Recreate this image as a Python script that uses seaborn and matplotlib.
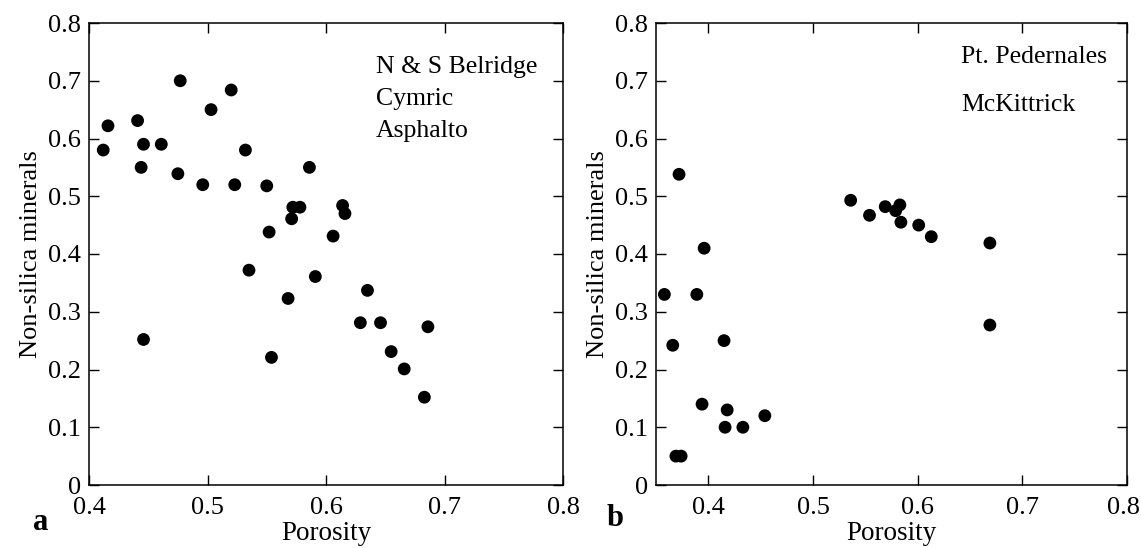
import matplotlib
matplotlib.use("Agg")
import matplotlib.pyplot as plt
import seaborn as sns
import pandas as pd
from matplotlib.ticker import FuncFormatter

# Panel a data
a_porosity = [0.412, 0.416, 0.441, 0.446, 0.444, 0.461, 0.477, 0.475, 0.496, 0.503,
              0.520, 0.523, 0.532, 0.550, 0.552, 0.535, 0.571, 0.572, 0.578, 0.586,
              0.568, 0.591, 0.554, 0.446, 0.606, 0.614, 0.616, 0.635, 0.629, 0.646,
              0.686, 0.655, 0.666, 0.683]
a_nonsilica = [0.580, 0.622, 0.631, 0.590, 0.550, 0.590, 0.700, 0.539, 0.520, 0.650,
               0.684, 0.520, 0.580, 0.518, 0.438, 0.372, 0.461, 0.481, 0.481, 0.550,
               0.323, 0.361, 0.221, 0.252, 0.431, 0.484, 0.470, 0.337, 0.281, 0.281,
               0.274, 0.231, 0.201, 0.152]

# Panel b data
b_porosity = [0.358, 0.366, 0.372, 0.369, 0.374, 0.389, 0.396, 0.394, 0.415, 0.418,
              0.416, 0.433, 0.454, 0.536, 0.554, 0.569, 0.579, 0.583, 0.584, 0.601,
              0.613, 0.669, 0.669]
b_nonsilica = [0.330, 0.242, 0.538, 0.050, 0.050, 0.330, 0.410, 0.140, 0.250, 0.130,
               0.100, 0.100, 0.120, 0.493, 0.467, 0.482, 0.475, 0.485, 0.455, 0.450,
               0.430, 0.419, 0.277]

a_labels = ["N & S Belridge", "Cymric", "Asphalto"]
b_labels = ["Pt. Pedernales", "McKittrick"]
x_ticks = [0.4, 0.5, 0.6, 0.7, 0.8]
y_ticks = [0.0, 0.1, 0.2, 0.3, 0.4, 0.5, 0.6, 0.7, 0.8]

sns.set_theme(style="white")
plt.rcParams['font.family'] = ['Liberation Serif', 'DejaVu Serif']

fig = plt.figure(figsize=(11.41, 5.48), dpi=100)
W, H = 1141, 548
axA = fig.add_axes([89 / W, 1 - 485 / H, 474 / W, 462 / H])
axB = fig.add_axes([656 / W, 1 - 485 / H, 471 / W, 462 / H])

dfa = pd.DataFrame({"Porosity": a_porosity, "Non-silica minerals": a_nonsilica})
dfb = pd.DataFrame({"Porosity": b_porosity, "Non-silica minerals": b_nonsilica})

fmt = FuncFormatter(lambda v, p: "0" if abs(v) < 1e-9 else f"{v:.1f}")

for ax, df, xlim in [(axA, dfa, (0.4, 0.8)), (axB, dfb, (0.35, 0.8))]:
    sns.scatterplot(data=df, x="Porosity", y="Non-silica minerals", ax=ax,
                    color="black", s=85, linewidth=0, edgecolor="none", zorder=3)
    ax.set_xlim(*xlim)
    ax.set_ylim(0, 0.8)
    ax.set_xticks(x_ticks)
    ax.set_yticks(y_ticks)
    ax.xaxis.set_major_formatter(fmt)
    ax.yaxis.set_major_formatter(fmt)
    ax.tick_params(direction="in", length=7, width=1, top=True, right=True,
                   bottom=True, left=True, labelsize=19, color="black",
                   labelcolor="black")
    ax.tick_params(axis="x", pad=9)
    ax.tick_params(axis="y", pad=6)
    for sp in ax.spines.values():
        sp.set_color("black")
        sp.set_linewidth(1.1)
    ax.set_xlabel("Porosity", fontsize=19.5, color="black", labelpad=1)
    ax.set_ylabel("Non-silica minerals", fontsize=19, color="black", labelpad=4)

# nudge the last x tick label of panel b so it stays within the figure
import matplotlib.transforms as mtransforms
lbl = axB.get_xticklabels()[-1]
lbl.set_transform(lbl.get_transform() + mtransforms.ScaledTranslation(-4 / 100, 0, fig.dpi_scale_trans))

# annotations
for i, t in enumerate(a_labels):
    fig.text(376 / W, 1 - (67 + 32 * i) / H, t, fontsize=18.5, ha="left",
             va="center", color="black")
for i, t in enumerate(b_labels):
    fig.text(961 / W, 1 - (57 + 48 * i) / H, t, fontsize=18.5, ha="left",
             va="center", color="black")

fig.text(41 / W, 1 - 523 / H, "a", fontsize=22, fontweight="bold", ha="center",
         va="center", color="black")
fig.text(615 / W, 1 - 519 / H, "b", fontsize=22, fontweight="bold", ha="center",
         va="center", color="black")

fig.savefig("out.png", dpi=100, facecolor="white")
